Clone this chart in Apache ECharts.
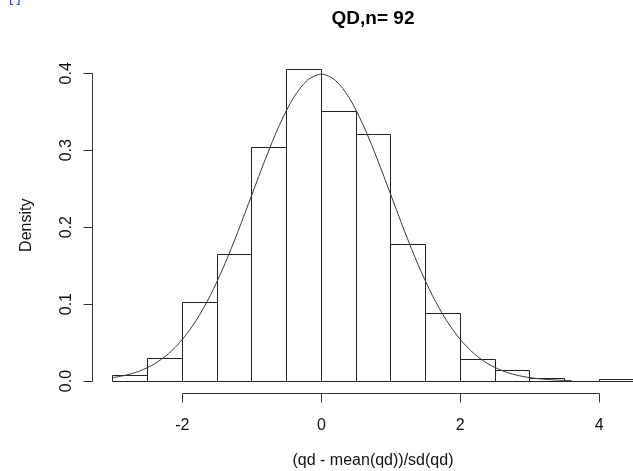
<!DOCTYPE html>
<html>
<head>
<meta charset="utf-8">
<script src="https://cdn.jsdelivr.net/npm/echarts@6/dist/echarts.min.js"></script>
<style>
html,body{margin:0;padding:0;background:#fff;}
#chart{width:633px;height:471px;}
</style>
</head>
<body>
<div id="chart"></div>
<script>
// Histogram bins (left edges) and densities
const binStarts = [-3, -2.5, -2, -1.5, -1, -0.5, 0, 0.5, 1, 1.5, 2, 2.5, 3, 3.5, 4];
const binWidth = 0.5;
const densities = [0.0078, 0.0295, 0.102, 0.165, 0.303, 0.405, 0.351, 0.32, 0.178, 0.088, 0.028, 0.014, 0.0035, 0, 0.0025];

// Density curve
const curveX = [-3.0, -2.8, -2.6, -2.4, -2.2, -2.0, -1.8, -1.6, -1.4, -1.2, -1.0, -0.8, -0.6, -0.4, -0.2, 0.0,
                0.2, 0.4, 0.6, 0.8, 1.0, 1.2, 1.4, 1.6, 1.8, 2.0, 2.2, 2.4, 2.6, 2.8, 3.0, 3.2, 3.4, 3.6];
const curveY = [0.0044, 0.0079, 0.0136, 0.0224, 0.0355, 0.0540, 0.0790, 0.1109, 0.1497, 0.1942, 0.2420, 0.2897,
                0.3332, 0.3683, 0.3910, 0.3989, 0.3910, 0.3683, 0.3332, 0.2897, 0.2420, 0.1942, 0.1497, 0.1109,
                0.0790, 0.0540, 0.0355, 0.0224, 0.0136, 0.0079, 0.0044, 0.0024, 0.0012, 0.0006];

// Tick labels
const xTicks = [-2, 0, 2, 4];
const yTicks = [0, 0.1, 0.2, 0.3, 0.4];
const yTickLabels = ['0.0', '0.1', '0.2', '0.3', '0.4'];

// Axis ranges (R-style extension; right side cropped by the image edge)
const xMin = -3.3, xMax = 4.485;
const yMin = -0.0162, yMax = 0.4212;

const titleText = 'QD,n= 92';
const xName = '(qd - mean(qd))/sd(qd)';
const yName = 'Density';

const FONT = '"Liberation Sans", Arial, sans-serif';
const chart = echarts.init(document.getElementById('chart'), null, {renderer: 'canvas'});

const crisp = v => Math.round(v - 0.5) + 0.5;
const TICK = 9;
const AXIS_COLOR = '#333';

const option = {
  animation: false,
  backgroundColor: '#fff',
  grid: {left: 92, right: 0, top: 57, bottom: 77.5, containLabel: false},
  graphic: [
    {type: 'text', x: 373, y: 19, style: {text: titleText, textAlign: 'center', textVerticalAlign: 'middle',
      font: 'bold 19px ' + FONT, fill: '#000'}},
    {type: 'text', x: 373, y: 461, style: {text: xName, textAlign: 'center', textVerticalAlign: 'middle',
      font: '16px ' + FONT, fill: '#111'}},
    {type: 'text', x: 9, y: -9, style: {text: '[ ]', font: '14px ' + FONT, fill: '#2233dd'}}
  ],
  xAxis: {
    type: 'value', min: xMin, max: xMax,
    axisLine: {show: false}, splitLine: {show: false}, axisTick: {show: false},
    axisLabel: {customValues: xTicks, margin: 24, fontSize: 16, fontFamily: FONT, color: '#111',
      formatter: v => String(v)}
  },
  yAxis: {
    type: 'value', min: yMin, max: yMax,
    axisLine: {show: false}, splitLine: {show: false}, axisTick: {show: false},
    axisLabel: {customValues: yTicks, rotate: 90, margin: 17, fontSize: 16, fontFamily: FONT, color: '#111',
      formatter: v => yTickLabels[yTicks.findIndex(t => Math.abs(t - v) < 1e-9)] ?? ''},
    name: yName, nameLocation: 'middle', nameGap: 57, nameRotate: 90,
    nameTextStyle: {fontSize: 16, fontFamily: FONT, color: '#111'}
  },
  series: [
    {
      type: 'custom',
      clip: false,
      data: binStarts.map((s, i) => [s, s + binWidth, densities[i]]),
      encode: {x: [0, 1], y: 2},
      renderItem: function (params, api) {
        const p0 = api.coord([api.value(0), api.value(2)]);
        const p1 = api.coord([api.value(1), 0]);
        const x0 = crisp(p0[0]), x1 = crisp(p1[0]);
        const y0 = crisp(p0[1]), y1 = crisp(p1[1]);
        return {
          type: 'rect',
          shape: {x: x0, y: y0, width: x1 - x0, height: y1 - y0},
          style: {fill: '#fff', stroke: '#222', lineWidth: 1}
        };
      },
      z: 2
    },
    {
      type: 'line',
      data: curveX.map((x, i) => [x, curveY[i]]),
      showSymbol: false, smooth: 0.3, clip: false,
      lineStyle: {color: '#3a3a3a', width: 1},
      z: 3
    },
    // x axis: line from first to last tick plus ticks
    {
      type: 'custom', clip: false, z: 4,
      data: xTicks.map((t, i) => [t, yMin, xTicks[0], xTicks[xTicks.length - 1], i]),
      renderItem: function (params, api) {
        const p = api.coord([api.value(0), api.value(1)]);
        const x = crisp(p[0]), y = crisp(p[1]);
        const children = [{type: 'line', shape: {x1: x, y1: y, x2: x, y2: y + TICK},
          style: {stroke: AXIS_COLOR, lineWidth: 1}}];
        if (api.value(4) === 0) {
          const a = api.coord([api.value(2), api.value(1)]);
          const b = api.coord([api.value(3), api.value(1)]);
          children.push({type: 'line', shape: {x1: crisp(a[0]), y1: y, x2: crisp(b[0]), y2: y},
            style: {stroke: AXIS_COLOR, lineWidth: 1}});
        }
        return {type: 'group', children: children};
      }
    },
    // y axis: line from first to last tick plus ticks
    {
      type: 'custom', clip: false, z: 4,
      data: yTicks.map((t, i) => [xMin, t, yTicks[0], yTicks[yTicks.length - 1], i]),
      renderItem: function (params, api) {
        const p = api.coord([api.value(0), api.value(1)]);
        const x = crisp(p[0]), y = crisp(p[1]);
        const children = [{type: 'line', shape: {x1: x, y1: y, x2: x - TICK, y2: y},
          style: {stroke: AXIS_COLOR, lineWidth: 1}}];
        if (api.value(4) === 0) {
          const a = api.coord([api.value(0), api.value(2)]);
          const b = api.coord([api.value(0), api.value(3)]);
          children.push({type: 'line', shape: {x1: x, y1: crisp(a[1]), x2: x, y2: crisp(b[1])},
            style: {stroke: AXIS_COLOR, lineWidth: 1}});
        }
        return {type: 'group', children: children};
      }
    }
  ]
};
chart.setOption(option);
</script>
</body>
</html>
